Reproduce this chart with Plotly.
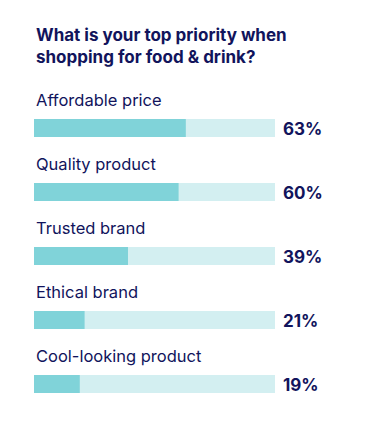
import plotly.graph_objects as go

categories = ["Affordable price", "Quality product", "Trusted brand", "Ethical brand", "Cool-looking product"]
values = [63, 60, 39, 21, 19]
track_total = [100, 100, 100, 100, 100]
title_text = "What is your top priority when<br>shopping for food & drink?"

NAVY = "#11145c"
FILL = "#80d3d9"
TRACK = "#d3eff1"
FONT = "Inter, Lato, sans-serif"

fig = go.Figure()
fig.add_trace(go.Bar(y=categories, x=track_total, orientation="h", marker=dict(color=TRACK, line=dict(width=0)),
                     width=0.28, hoverinfo="skip", showlegend=False))
fig.add_trace(go.Bar(y=categories, x=values, orientation="h", marker=dict(color=FILL, line=dict(width=0)),
                     width=0.28, hoverinfo="skip", showlegend=False))

annotations = []
for c, v in zip(categories, values):
    annotations.append(dict(x=0, xref="paper", y=c, yref="y", text=c, showarrow=False,
                            xanchor="left", yanchor="middle", yshift=28,
                            font=dict(family=FONT, size=16.5, color=NAVY)))
    annotations.append(dict(x=100, xref="x", y=c, yref="y", text=f"<b>{v}%</b>", showarrow=False,
                            xanchor="left", yanchor="middle", xshift=6, yshift=-1,
                            font=dict(family=FONT, size=17, color=NAVY)))
annotations.append(dict(x=0, xref="paper", y=1, yref="paper", text=f"<b>{title_text}</b>", showarrow=False,
                        xanchor="left", yanchor="bottom", yshift=27, align="left",
                        font=dict(family=FONT, size=17, color=NAVY)))

n = len(categories)
fig.update_layout(
    width=378, height=440,
    margin=dict(l=26, r=111, t=88, b=32),
    barmode="overlay",
    paper_bgcolor="white", plot_bgcolor="white",
    xaxis=dict(range=[0, 100], visible=False, fixedrange=True),
    yaxis=dict(categoryorder="array", categoryarray=categories, range=[n - 0.5, -0.5],
               autorange=False, visible=False, fixedrange=True),
    annotations=annotations,
    font=dict(family=FONT),
)
fig.write_html("out.html", config={"displayModeBar": False})
